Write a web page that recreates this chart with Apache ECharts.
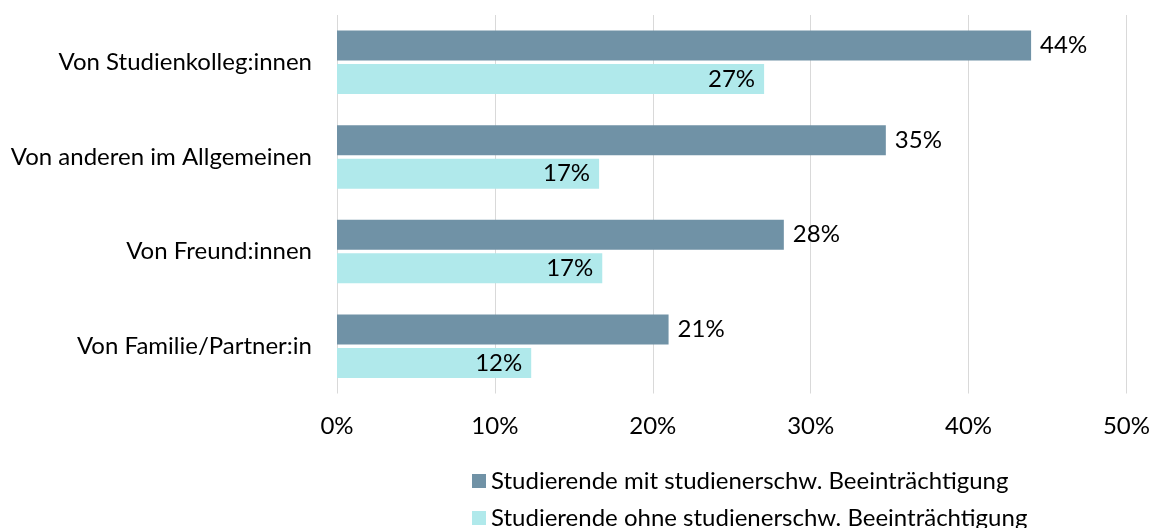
<!DOCTYPE html>
<html>
<head>
<meta charset="utf-8">
<script src="https://cdn.jsdelivr.net/npm/echarts@6/dist/echarts.min.js"></script>
<style>
  html, body { margin: 0; padding: 0; background: #fff; }
  #chart { width: 1153px; height: 528px; }
</style>
</head>
<body>
<div id="chart"></div>
<script>
// categories, top to bottom
const categories = [
  'Von Studienkolleg:innen',
  'Von anderen im Allgemeinen',
  'Von Freund:innen',
  'Von Familie/Partner:in'
]
const seriesNames = [
  'Studierende mit studienerschw. Beeinträchtigung',
  'Studierende ohne studienerschw. Beeinträchtigung'
]
const withImpairment = [43.96, 34.76, 28.3, 21.0]
const withoutImpairment = [27.05, 16.6, 16.8, 12.3]
const xTicks = [0, 10, 20, 30, 40, 50]

const FONT = 'Lato'
const FS = 24
const darkColor = '#7092a6'
const lightColor = '#b0e9eb'

const chart = echarts.init(document.getElementById('chart'), null, { renderer: 'canvas' })

chart.setOption({
  animation: false,
  textStyle: { fontFamily: FONT },
  grid: { left: 337, right: 23, top: 15, height: 378.5, containLabel: false },
  xAxis: {
    type: 'value',
    min: xTicks[0],
    max: xTicks[xTicks.length - 1],
    interval: 10,
    axisLine: { show: false },
    axisTick: { show: false },
    splitLine: { show: true, lineStyle: { color: '#d9d9d9', width: 1 } },
    axisLabel: {
      margin: 21,
      fontSize: FS,
      color: '#000',
      fontFamily: FONT,
      formatter: v => v + '%'
    }
  },
  yAxis: {
    type: 'category',
    inverse: true,
    data: categories,
    axisLine: { show: false },
    axisTick: { show: false },
    axisLabel: { margin: 25, fontSize: FS, color: '#000', fontFamily: FONT }
  },
  legend: {
    orient: 'vertical',
    left: 467,
    top: 464,
    height: 120,
    icon: 'rect',
    itemWidth: 14,
    itemHeight: 14,
    itemGap: 13,
    textStyle: { fontSize: FS, lineHeight: 24, color: '#000', fontFamily: FONT },
    data: seriesNames
  },
  series: [
    {
      name: seriesNames[0],
      type: 'bar',
      data: withImpairment,
      barWidth: 30,
      barGap: '12%',
      itemStyle: { color: darkColor },
      label: {
        show: true,
        position: 'right',
        distance: 9,
        fontSize: FS,
        color: '#000',
        fontFamily: FONT,
        formatter: p => Math.round(p.value) + '%'
      }
    },
    {
      name: seriesNames[1],
      type: 'bar',
      data: withoutImpairment,
      barWidth: 30,
      barGap: '12%',
      itemStyle: { color: lightColor },
      label: {
        show: true,
        position: 'insideRight',
        distance: 9,
        fontSize: FS,
        color: '#000',
        fontFamily: FONT,
        formatter: p => Math.round(p.value) + '%'
      }
    }
  ]
})
</script>
</body>
</html>
